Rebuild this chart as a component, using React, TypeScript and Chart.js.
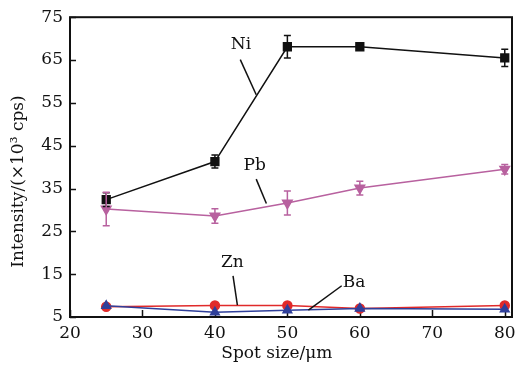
import React, { useEffect, useRef } from "react";
import { Chart, registerables } from "chart.js";

Chart.register(...registerables);

// ---- data ----
const spotSizes = [25, 40, 50, 60, 80];
const niValues = [32.4, 41.3, 68.1, 68.1, 65.5];
const niErrors = [1.6, 1.5, 2.6, 0.5, 2.0];
const pbValues = [30.2, 28.6, 31.6, 35.1, 39.5];
const pbErrors = [3.9, 1.7, 2.8, 1.6, 1.1];
const znValues = [7.4, 7.7, 7.7, 7.0, 7.7];
const baValues = [7.6, 6.1, 6.6, 7.0, 6.8];
const xTickValues = [20, 30, 40, 50, 60, 70, 80];
const yTickValues = [5, 15, 25, 35, 45, 55, 65, 75];

const xTitle = "Spot size/\u03bcm";
const yTitle = "Intensity/(\u00d710\u00b3 cps)";

// annotation labels with leader lines (in data coordinates)
const annotations = [
  { text: "Ni", at: [43.6, 68.6], from: [43.5, 65.1], to: [45.7, 56.9] },
  { text: "Pb", at: [45.5, 40.4], from: [45.7, 37.2], to: [47.1, 31.5] },
  { text: "Zn", at: [42.4, 17.6], from: [42.5, 14.6], to: [43.1, 7.75] },
  { text: "Ba", at: [59.2, 13.0], from: [57.5, 12.3], to: [52.9, 6.6] },
];

const FONT = "'DejaVu Serif', serif";

const toPoints = (vals: number[]) => spotSizes.map((x, i) => ({ x, y: vals[i] }));

const customPlugin = {
  id: "custom",
  beforeDatasetsDraw(chart: any) {
    const { ctx, chartArea: a, scales } = chart;
    ctx.save();
    ctx.strokeStyle = "#111";
    ctx.lineWidth = 1.5;
    ctx.beginPath();
    xTickValues.forEach((v) => {
      const px = Math.round(scales.x.getPixelForValue(v)) + 0.5;
      ctx.moveTo(px, a.bottom);
      ctx.lineTo(px, a.bottom - 7);
    });
    yTickValues.forEach((v) => {
      const py = Math.round(scales.y.getPixelForValue(v)) + 0.5;
      ctx.moveTo(a.left, py);
      ctx.lineTo(a.left + 6, py);
    });
    ctx.stroke();
    ctx.restore();
  },
  afterDatasetsDraw(chart: any) {
    const { ctx, scales } = chart;
    chart.data.datasets.forEach((ds: any) => {
      const errs = ds.errorBars as number[] | undefined;
      if (!errs) return;
      ctx.save();
      ctx.strokeStyle = ds.borderColor;
      ctx.lineWidth = 1.5;
      ctx.beginPath();
      ds.data.forEach((p: any, j: number) => {
        const px = scales.x.getPixelForValue(p.x);
        const top = scales.y.getPixelForValue(p.y + errs[j]);
        const bot = scales.y.getPixelForValue(p.y - errs[j]);
        ctx.moveTo(px, top);
        ctx.lineTo(px, bot);
        ctx.moveTo(px - 3.5, top);
        ctx.lineTo(px + 3.5, top);
        ctx.moveTo(px - 3.5, bot);
        ctx.lineTo(px + 3.5, bot);
      });
      ctx.stroke();
      ctx.restore();
    });
  },
  afterDraw(chart: any) {
    const { ctx, chartArea: a, scales } = chart;
    ctx.save();
    // frame
    ctx.strokeStyle = "#111";
    ctx.lineWidth = 2;
    ctx.strokeRect(a.left, a.top, a.right - a.left, a.bottom - a.top);
    // annotations
    ctx.fillStyle = "#111";
    ctx.font = `17px ${FONT}`;
    ctx.textAlign = "center";
    ctx.textBaseline = "middle";
    ctx.lineWidth = 1.5;
    annotations.forEach((an) => {
      ctx.fillText(an.text, scales.x.getPixelForValue(an.at[0]), scales.y.getPixelForValue(an.at[1]));
      ctx.beginPath();
      ctx.moveTo(scales.x.getPixelForValue(an.from[0]), scales.y.getPixelForValue(an.from[1]));
      ctx.lineTo(scales.x.getPixelForValue(an.to[0]), scales.y.getPixelForValue(an.to[1]));
      ctx.stroke();
    });
    // axis titles
    ctx.fillText(xTitle, a.left + (a.right - a.left) * 0.468, 354);
    ctx.save();
    ctx.translate(19, a.top + (a.bottom - a.top) * 0.548);
    ctx.rotate(-Math.PI / 2);
    ctx.fillText(yTitle, 0, 0);
    ctx.restore();
    ctx.restore();
  },
};

export default function App() {
  const ref = useRef<HTMLCanvasElement | null>(null);
  useEffect(() => {
    if (!ref.current) return;
    const chart = new Chart(ref.current, {
      type: "line",
      data: {
        datasets: [
          {
            label: "Ni",
            data: toPoints(niValues),
            errorBars: niErrors,
            borderColor: "#111111",
            backgroundColor: "#111111",
            borderWidth: 1.5,
            pointStyle: "rect",
            pointRadius: 5.5,
          },
          {
            label: "Pb",
            data: toPoints(pbValues),
            errorBars: pbErrors,
            borderColor: "#b8619f",
            backgroundColor: "#b8619f",
            borderWidth: 1.5,
            pointStyle: "triangle",
            rotation: 180,
            pointRadius: 5.5,
          },
          {
            label: "Ba",
            data: toPoints(baValues),
            borderColor: "#2f3f9a",
            backgroundColor: "#2f3f9a",
            borderWidth: 1.5,
            pointStyle: "triangle",
            pointRadius: 5,
          },
          {
            label: "Zn",
            data: toPoints(znValues),
            borderColor: "#e02a2a",
            backgroundColor: "#e02a2a",
            borderWidth: 1.5,
            pointStyle: "circle",
            pointRadius: 4.5,
          },
        ] as any,
      },
      options: {
        animation: false,
        responsive: false,
        maintainAspectRatio: false,
        layout: { padding: { top: 12, right: 13, left: 0, bottom: 0 } },
        plugins: { legend: { display: false }, tooltip: { enabled: false } },
        scales: {
          x: {
            type: "linear",
            min: 20,
            max: 81,
            afterBuildTicks: (s: any) => {
              s.ticks = xTickValues.map((v) => ({ value: v }));
            },
            afterFit: (s: any) => {
              s.height = 48;
            },
            grid: { display: false, drawTicks: false, tickLength: 0 },
            border: { display: false },
            ticks: {
              padding: 6,
              color: "#111",
              font: { family: FONT, size: 17 },
              maxRotation: 0,
            },
          },
          y: {
            type: "linear",
            min: 5,
            max: 75,
            afterBuildTicks: (s: any) => {
              s.ticks = yTickValues.map((v) => ({ value: v }));
            },
            afterFit: (s: any) => {
              s.width = 70;
            },
            grid: { display: false, drawTicks: false, tickLength: 0 },
            border: { display: false },
            ticks: {
              padding: 7,
              color: "#111",
              font: { family: FONT, size: 17 },
            },
          },
        },
      } as any,
      plugins: [customPlugin],
    });
    return () => chart.destroy();
  }, []);
  return (
    <div style={{ position: "absolute", left: 0, top: 0, width: 525, height: 365, background: "#fff" }}>
      <canvas ref={ref} width={525} height={365} style={{ width: 525, height: 365 }} />
    </div>
  );
}
